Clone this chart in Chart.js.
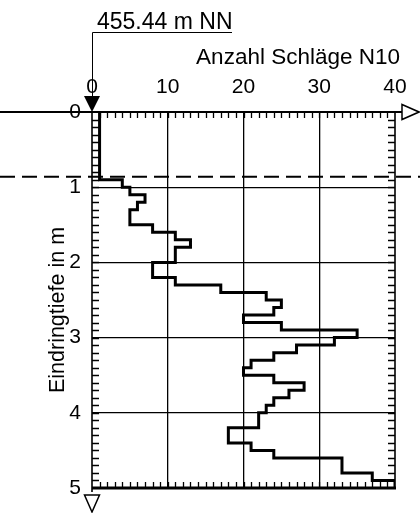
<!DOCTYPE html>
<html><head><meta charset="utf-8">
<script src="https://cdn.jsdelivr.net/npm/chart.js@4/dist/chart.umd.min.js"></script>
<style>html,body{margin:0;padding:0;background:#fff}#wrap{width:420px;height:513px}</style>
</head><body><div id="wrap"><canvas id="c" width="420" height="513"></canvas></div>
<script>
// Depth boundaries of each 10 cm interval (m)
const depthBounds = [0.0,0.1,0.2,0.3,0.4,0.5,0.6,0.7,0.8,0.9,
  1.0,1.1,1.2,1.3,1.4,1.5,1.6,1.7,1.8,1.9,
  2.0,2.1,2.2,2.3,2.4,2.5,2.6,2.7,2.8,2.9,
  3.0,3.1,3.2,3.3,3.4,3.5,3.6,3.7,3.8,3.9,
  4.0,4.1,4.2,4.3,4.4,4.5,4.6,4.7,4.8,4.9,5.0];
// Blow counts N10 per interval
const blows = [1,1,1,1,1,1,1,1,1,4,
  5,7,6,5,5,8,11,13,11,11,
  8,8,11,17,23,25,24,20,25,35,
  32,27,24,21,20,24,28,26,24,23,
  22,22,18,18,21,24,33,33,37,40];
const xTickValues = [0,10,20,30,40];
const depthTickValues = [0,1,2,3,4,5];
const xMinorStep = [1];      // minor tick spacing N10
const depthMinorStep = [0.1]; // minor tick spacing m
const elevationLabel = '455.44 m NN';
const xTitle = 'Anzahl Schläge N10';
const yTitle = 'Eindringtiefe in m';
const groundDepth = 0;
const waterDepth = 0.86;

const FONT = '"Liberation Sans", Arial, Helvetica, sans-serif';

const pts = [];
for (let i = 0; i < blows.length; i++) {
  pts.push({x: blows[i], y: depthBounds[i]});
  pts.push({x: blows[i], y: depthBounds[i+1]});
}

const deco = {
  id: 'deco',
  beforeDatasetsDraw(chart) {
    const ctx = chart.ctx, xs = chart.scales.x, ys = chart.scales.y;
    const x0 = xs.getPixelForValue(xs.min), x1 = xs.getPixelForValue(xs.max);
    const y0 = ys.getPixelForValue(ys.min), y1 = ys.getPixelForValue(ys.max);
    ctx.save();
    ctx.strokeStyle = '#000';
    // minor ticks
    ctx.lineWidth = 1.3;
    ctx.beginPath();
    for (let v = xs.min + xMinorStep[0]; v < xs.max - 1e-9; v += xMinorStep[0]) {
      const px = Math.round(xs.getPixelForValue(v)) + 0.5;
      ctx.moveTo(px, y0); ctx.lineTo(px, y0 + 6);
      ctx.moveTo(px, y1); ctx.lineTo(px, y1 - 6);
    }
    for (let k = 1; k < Math.round((ys.max - ys.min) / depthMinorStep[0]); k++) {
      const py = Math.round(ys.getPixelForValue(ys.min + k * depthMinorStep[0])) + 0.5;
      ctx.moveTo(x0, py); ctx.lineTo(x0 + 7, py);
      ctx.moveTo(x1, py); ctx.lineTo(x1 - 7, py);
    }
    ctx.stroke();
    // left and right borders
    ctx.lineWidth = 1.6;
    ctx.beginPath();
    ctx.moveTo(x0, y0); ctx.lineTo(x0, y1 + 4);
    ctx.moveTo(x1, y0); ctx.lineTo(x1, y1);
    ctx.stroke();
    // bottom border thick
    ctx.lineWidth = 3;
    ctx.beginPath();
    ctx.moveTo(x0, y1); ctx.lineTo(x1 + 1, y1);
    ctx.stroke();
    ctx.restore();
  },
  afterDraw(chart) {
    const ctx = chart.ctx, xs = chart.scales.x, ys = chart.scales.y;
    const x0 = xs.getPixelForValue(xs.min), x1 = xs.getPixelForValue(xs.max);
    const y1 = ys.getPixelForValue(ys.max);
    const yg = ys.getPixelForValue(groundDepth);
    const yw = ys.getPixelForValue(waterDepth);
    const W = chart.width;
    ctx.save();
    ctx.strokeStyle = '#000'; ctx.fillStyle = '#000';
    // ground line
    ctx.lineWidth = 2;
    ctx.beginPath(); ctx.moveTo(0, yg); ctx.lineTo(x1 + 7, yg); ctx.stroke();
    // right open arrow
    ctx.lineWidth = 1.5;
    ctx.beginPath();
    ctx.moveTo(x1 + 7, yg - 7.5); ctx.lineTo(W - 1, yg); ctx.lineTo(x1 + 7, yg + 7.5); ctx.closePath();
    ctx.fillStyle = '#fff'; ctx.fill(); ctx.stroke();
    ctx.fillStyle = '#000';
    // water level dashed
    ctx.lineWidth = 2;
    ctx.setLineDash([15, 7]);
    ctx.beginPath(); ctx.moveTo(0, yw); ctx.lineTo(W, yw); ctx.stroke();
    ctx.setLineDash([]);
    // elevation marker
    ctx.lineWidth = 1;
    ctx.beginPath();
    ctx.moveTo(x0 + 0.5, 32.5); ctx.lineTo(232, 32.5);
    ctx.moveTo(x0 + 0.5, 32.5); ctx.lineTo(x0 + 0.5, yg - 16);
    ctx.stroke();
    ctx.beginPath();
    ctx.moveTo(x0 - 8, yg - 16); ctx.lineTo(x0 + 8, yg - 16); ctx.lineTo(x0, yg); ctx.closePath();
    ctx.fill();
    // bottom open arrow
    ctx.lineWidth = 1.5;
    ctx.beginPath();
    ctx.moveTo(x0 - 7.5, y1 + 7); ctx.lineTo(x0 + 7.5, y1 + 7); ctx.lineTo(x0, y1 + 24); ctx.closePath();
    ctx.stroke();
    // texts
    ctx.textBaseline = 'alphabetic';
    ctx.textAlign = 'left';
    ctx.font = '23px ' + FONT;
    ctx.fillText(elevationLabel, 97, 28.5);
    ctx.textAlign = 'right';
    ctx.font = '22.5px ' + FONT;
    ctx.fillText(xTitle, 400, 64);
    ctx.font = '21.5px ' + FONT;
    ctx.translate(64, 310);
    ctx.rotate(-Math.PI / 2);
    ctx.textAlign = 'center';
    ctx.fillText(yTitle, 0, 0);
    ctx.restore();
  }
};

new Chart(document.getElementById('c'), {
  type: 'scatter',
  data: { datasets: [{
    data: pts, showLine: true, borderColor: '#000', borderWidth: 3,
    pointRadius: 0, fill: false, tension: 0, borderJoinStyle: 'miter', borderCapStyle: 'square'
  }]},
  options: {
    responsive: false, animation: false, devicePixelRatio: 1,
    layout: { padding: { left: 0, top: 0, right: 25, bottom: 25 } },
    plugins: { legend: { display: false }, tooltip: { enabled: false } },
    scales: {
      x: {
        type: 'linear', position: 'top', min: 0, max: 40,
        afterBuildTicks: s => { s.ticks = xTickValues.map(v => ({ value: v })); },
        afterFit: s => { s.height = 112; },
        ticks: { font: { family: FONT, size: 21 }, color: '#000', padding: 12, maxRotation: 0 },
        grid: { drawTicks: false, lineWidth: 1.3,
          color: c => (c.tick && c.tick.value > 0 && c.tick.value < 40) ? '#000' : 'rgba(0,0,0,0)' },
        border: { display: false }
      },
      y: {
        type: 'linear', reverse: true, min: 0, max: 5,
        afterBuildTicks: s => { s.ticks = depthTickValues.map(v => ({ value: v })); },
        afterFit: s => { s.width = 92; },
        ticks: { font: { family: FONT, size: 21 }, color: '#000', padding: 11 },
        grid: { drawTicks: false, lineWidth: 1.3,
          color: c => (c.tick && c.tick.value > 0 && c.tick.value < 5) ? '#000' : 'rgba(0,0,0,0)' },
        border: { display: false }
      }
    }
  },
  plugins: [deco]
});
</script>
</body></html>
